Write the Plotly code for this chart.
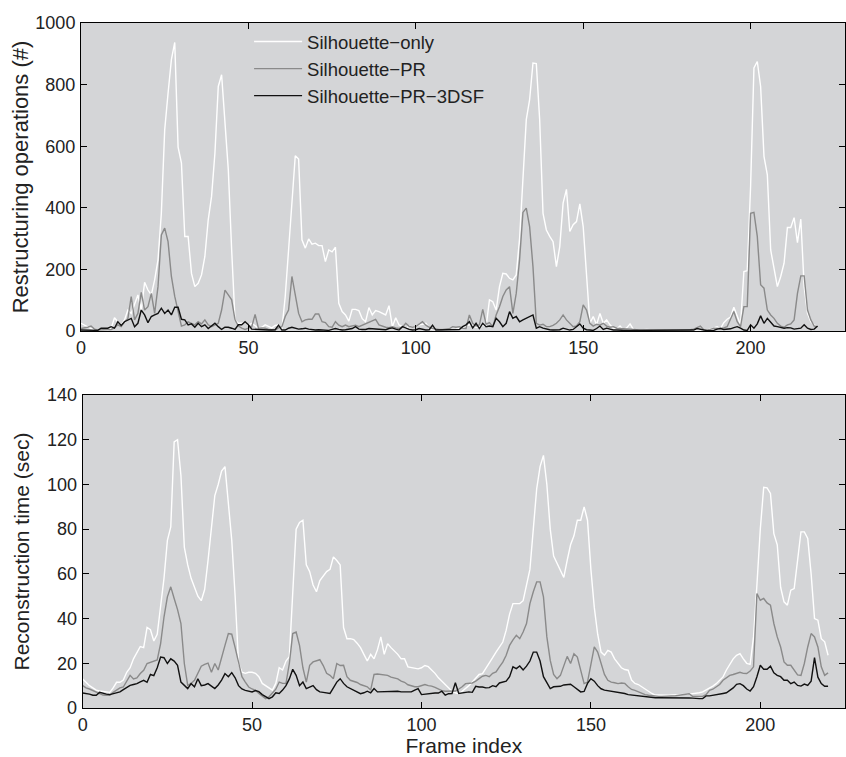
import plotly.graph_objects as go

frames = list(range(0, 221))

# Restructuring operations (#)
ops_silhouette_only = [
    25, 19.5, 12, 8, 5, 3, 3, 3, 3, 8, 43, 30, 19, 36, 68, 57, 90, 117, 68, 158,
    133, 117, 166, 231, 382, 653, 772, 881, 937, 597, 545, 307, 307, 187, 144, 155, 182, 242, 361, 437,
    577, 794, 832, 686, 523, 263, 36, 25, 25, 30, 19, 25, 16, 9, 12, 20, 15, 10, 18, 19.5,
    5, 112, 263, 404, 569, 558, 296, 269, 299, 282, 285, 277, 277, 225, 263, 257, 272, 90, 63, 52,
    32, 70, 70, 66, 40, 30, 76, 52, 66, 63, 58, 52, 82, 14, 43, 19.5, 14, 9, 15, 12,
    14, 20, 22, 25, 10, 5, 5, 5, 4, 4, 3, 5, 6, 8, 10, 16, 20, 18, 12, 14,
    18, 14, 101, 95, 68, 144, 187, 185, 171, 166, 182, 300, 500, 686, 751, 870, 868, 686, 382, 328,
    307, 290, 209, 274, 415, 460, 323, 345, 355, 413, 339, 166, 25, 47, 20, 57, 25, 36, 20, 9,
    6, 16, 4, 10, 23, 5, 4, 3, 4, 5, 3, 3, 3, 2, 2, 3, 2, 2, 3, 2,
    2, 3, 2, 4, 3, 5, 3, 3, 6, 9, 14, 8, 27, 38, 45, 77, 47, 20, 193, 196,
    469, 854, 875, 794, 567, 507, 263, 209, 144, 177, 220, 336, 336, 368, 287, 363, 144, 57, 30, 20,
    14,
]
ops_silhouette_pr = [
    8, 9, 12, 16, 6, 3, 4, 5, 5, 5, 10, 20, 14, 30, 40, 112, 36, 57, 125, 68,
    79, 122, 57, 144, 312, 334, 290, 177, 112, 68, 16, 20, 30, 25, 20, 30, 23, 36, 20, 14,
    20, 25, 68, 133, 117, 101, 36, 16, 9, 5, 9, 14, 54, 9, 10, 9, 5, 5, 3, 10,
    14, 47, 68, 177, 122, 57, 30, 36, 38, 38, 55, 55, 30, 27, 14, 12, 30, 19, 14, 19,
    14, 16, 19, 14, 19, 22, 28, 33, 38, 20, 16, 12, 11, 14, 10, 8, 12, 25, 15, 12,
    14, 22, 30, 19, 12, 8, 6, 5, 5, 5, 7, 14, 12, 14, 9, 8, 52, 25, 16, 20,
    70, 22, 27, 14, 52, 79, 112, 133, 144, 57, 122, 231, 385, 399, 339, 209, 25, 19, 22, 14,
    14, 18, 25, 36, 52, 36, 25, 14, 16, 30, 85, 68, 25, 16, 22, 19, 25, 16, 12, 14,
    9, 8, 6, 5, 5, 4, 3, 3, 3, 3, 3, 3, 3, 3, 2, 3, 4, 3, 3, 2,
    3, 3, 4, 6, 10, 16, 4, 3, 5, 9, 8, 9, 10, 14, 36, 63, 30, 14, 79, 79,
    382, 385, 307, 150, 139, 68, 52, 41, 25, 16, 12, 20, 23, 36, 122, 179, 179, 68, 36, 16,
    14,
]
ops_silhouette_pr_3dsf = [
    3, 3, 1, 1, 1, 2, 9, 8, 9, 14, 9, 30, 18, 30, 36, 41, 14, 25, 68, 52,
    27, 47, 52, 57, 74, 57, 68, 52, 77, 77, 38, 36, 20, 23, 12, 25, 14, 20, 8, 16,
    25, 14, 5, 12, 12, 9, 5, 20, 20, 30, 20, 6, 5, 5, 4, 3, 3, 3, 4, 19,
    3, 3, 9, 12, 10, 6, 7, 9, 6, 4, 3, 4, 3, 3, 2, 5, 8, 5, 3, 4,
    5, 8, 14, 6, 5, 5, 8, 7, 5, 4, 3, 4, 8, 10, 6, 3, 14, 9, 5, 3,
    4, 8, 6, 3, 4, 19, 3, 3, 3, 3, 3, 4, 5, 5, 14, 20, 30, 10, 25, 8,
    25, 14, 16, 14, 41, 30, 14, 25, 63, 41, 47, 30, 36, 41, 47, 52, 9, 14, 9, 6,
    4, 3, 3, 4, 9, 6, 3, 5, 14, 23, 9, 4, 3, 2, 8, 16, 5, 9, 6, 3,
    3, 2, 1, 2, 1, 2, 2, 1, 1, 1, 1, 1, 1, 1, 1, 1, 1, 1, 1, 1,
    2, 1, 1, 3, 8, 5, 2, 1, 1, 2, 6, 8, 5, 6, 7, 11, 14, 9, 3, 2,
    20, 9, 23, 49, 25, 41, 30, 16, 14, 12, 9, 11, 10, 6, 8, 9, 20, 9, 5, 6,
    16,
]

# Reconstruction time (sec)
time_silhouette_only = [
    13, 11.5, 10, 9, 8, 7.6, 7.3, 7.2, 7, 9, 11.5, 11.5, 12.5, 16, 18, 22, 25, 27.5, 27, 36,
    35, 30, 33, 45, 58, 75, 81, 119, 120, 104, 72, 64, 58, 54, 50, 48, 53, 66, 82, 95,
    100, 106, 108, 92, 75, 50, 20, 16, 15.5, 16, 16, 15.5, 14, 11, 10, 9, 8, 11, 18, 17,
    21, 23, 55, 80, 83, 84, 64, 61, 55, 52, 57, 59, 61, 62, 67.6, 66, 64, 36, 31, 31,
    30.6, 29, 27, 24, 21, 24, 22, 26, 31.8, 24, 28.8, 27, 25.5, 24, 22, 22, 18.4, 18, 17.6, 17.5,
    18, 19, 18.5, 17, 15.5, 13.5, 12, 10.5, 9, 7.5, 6.8, 6.4, 7.5, 8.7, 10, 11.6, 13.5, 15, 15.4, 17.6,
    20, 22.5, 25, 27.5, 29.5, 34.8, 42, 46.7, 46.7, 46.7, 48, 55, 62, 80, 98, 108, 113, 100, 80, 68,
    64.6, 61, 58.4, 66, 73, 77, 84, 84, 90, 84, 62, 45, 33, 25, 23.6, 25.8, 25, 22, 19.8, 18,
    17.2, 16.9, 12.5, 11, 10.5, 9.5, 8.5, 7.3, 6.5, 5.8, 5.7, 5.7, 5.7, 5.7, 5.8, 5.8, 5.9, 6, 6.1, 6.2,
    6.3, 6.4, 6.8, 7.2, 8, 8.7, 9.8, 10.9, 12.5, 13.9, 17, 19.5, 22, 23.6, 24.3, 22, 20, 19.5, 31.8, 55,
    80, 98.7, 98.5, 96, 78, 73, 54, 47.5, 46, 52.7, 53.4, 66, 78.8, 78.8, 75.8, 60, 40, 39.3, 31, 29.6,
    23.6,
]
time_silhouette_pr = [
    10, 9, 8.5, 7.9, 7, 6.5, 5.8, 5.7, 5.7, 7, 8, 9, 9.4, 12, 14.6, 13, 13.5, 15.4, 16.9, 19.9,
    20.5, 21, 21.5, 28.8, 40.7, 49.7, 54.2, 49, 44, 37.8, 19.9, 10.1, 11, 12.4, 15.5, 18.7, 19.5, 20.1, 16, 19.9,
    17, 22, 28, 33.3, 33, 27, 20, 14, 11.6, 9.4, 8.5, 7.9, 6.5, 5.5, 4.2, 5, 6.5, 8.4, 11.6, 11,
    11, 19.9, 33.3, 34, 28, 18, 11.6, 19.1, 20.6, 21, 21.6, 19, 15.5, 14.6, 13.1, 19.9, 19, 19.1, 14, 12.4,
    12, 11.4, 10.5, 10, 9.5, 8, 15, 15.2, 15, 14.8, 14.6, 13.8, 13.5, 13, 12, 11.5, 10.4, 10, 9.5, 9.5,
    10, 10.5, 10, 9.8, 9.2, 8.5, 7.8, 7.5, 7.5, 7.3, 7.6, 8.5, 9.5, 10.9, 10.9, 11.2, 12, 13.1, 14.2, 14.6,
    14, 15.5, 16.1, 18.4, 20.5, 23.6, 28, 30.5, 32.5, 31, 34, 37.8, 46.7, 52, 56.4, 56.4, 49.7, 31.8, 21.3, 15,
    13.1, 14.6, 18.4, 23.1, 19.9, 24.3, 22.8, 16.1, 10.9, 11.6, 19.9, 27.3, 25, 20.5, 15, 12.4, 11.6, 11.3, 10.9, 11.2,
    11, 9.5, 8.3, 7.9, 7.2, 6.4, 6, 5.7, 5.5, 5.2, 5.2, 5.2, 5.2, 5.2, 5.3, 5.5, 5.7, 6, 6.3, 6.4,
    5.2, 5.3, 5.2, 5.2, 6, 7.9, 8.4, 9.5, 10.5, 12.4, 13.5, 14.6, 15, 15.4, 16, 15.5, 15.4, 16.5, 18.4, 51.2,
    48.2, 49, 47, 46, 37.8, 31.8, 27.3, 20.6, 19.1, 19.1, 17, 14.8, 14.6, 19.9, 27.3, 33.3, 31.8, 27.3, 18.4, 14.6,
    15.7,
]
time_silhouette_pr_3dsf = [
    6.7, 6.5, 6.2, 5.7, 5.7, 7, 6.5, 6.2, 6, 6.5, 7, 7.2, 8.2, 9, 10.1, 10.5, 10.9, 11.7, 12.4, 11.5,
    15, 14.5, 18, 22.8, 22.5, 19.9, 22, 21, 19.1, 11.6, 10, 8.7, 10.9, 9.5, 13.1, 10, 10.3, 10.9, 9.8, 8.7,
    10.3, 12.5, 15.4, 14, 15.8, 13.5, 10, 8.5, 7.9, 7.6, 7.2, 7.8, 7.3, 6, 5, 4.2, 5, 6.8, 6.5, 8,
    10, 13, 17.3, 14.6, 10, 11.6, 8.7, 9.4, 10, 8.2, 7.2, 7, 6.7, 6.5, 9, 11.6, 13.1, 11, 9.5, 8.7,
    8, 7.4, 6.4, 6.8, 7.5, 6.8, 8.7, 7.2, 7.3, 7.3, 7.4, 7.5, 7.6, 7.5, 7.2, 7.1, 7.1, 7.2, 8, 8.7,
    6, 6.2, 6.2, 6.7, 6.7, 6.7, 7.5, 5.7, 6.4, 6.5, 11.3, 6.5, 6.8, 7, 7.2, 7, 9.7, 9.4, 9.4, 9,
    9.1, 10, 9.5, 11.2, 11.6, 12, 14, 18.4, 17.6, 18.8, 17, 18.7, 21, 25, 25, 21, 14, 11, 8.7, 9.5,
    9.7, 9.7, 10.3, 10.5, 10.6, 9.5, 8.2, 7.2, 7.4, 11, 13.1, 12, 10, 8.6, 8, 7.8, 7.5, 7.3, 7, 6.8,
    6.5, 6, 5.8, 5.5, 5.3, 5.2, 5, 4.8, 4.6, 4.6, 4.6, 4.6, 4.6, 4.6, 4.6, 4.6, 4.7, 4.8, 4.6, 4.5,
    4.4, 4.2, 4.2, 4.2, 5.4, 5.4, 5.6, 5.8, 6.2, 6.5, 6.8, 7.9, 9, 10.6, 10.9, 10, 8.5, 7.6, 9.5, 14,
    19.1, 17.3, 17.3, 18.7, 15.7, 14.6, 14, 12.4, 12.4, 10.9, 11.6, 10.1, 9.8, 10.7, 10.1, 12, 22.5, 13.8, 10.9, 9.7,
    9.7,
]

series_names = ["Silhouette\u2212only", "Silhouette\u2212PR", "Silhouette\u2212PR\u22123DSF"]
series_colors = ["#ffffff", "#8a8a8a", "#111111"]

FONT = "Liberation Sans, Arial, Helvetica, sans-serif"
TXT = "#222222"

fig = go.Figure()

top_series = [ops_silhouette_only, ops_silhouette_pr, ops_silhouette_pr_3dsf]
bot_series = [time_silhouette_only, time_silhouette_pr, time_silhouette_pr_3dsf]

for i, (name, color, ys) in enumerate(zip(series_names, series_colors, top_series)):
    fig.add_trace(go.Scatter(
        x=frames, y=ys, mode="lines", name=name,
        line=dict(color=color, width=1.4),
        legendgroup="g%d" % i, showlegend=True,
        xaxis="x", yaxis="y",
    ))
for i, (name, color, ys) in enumerate(zip(series_names, series_colors, bot_series)):
    fig.add_trace(go.Scatter(
        x=frames, y=ys, mode="lines", name=name,
        line=dict(color=color, width=1.4),
        legendgroup="g%d" % i, showlegend=False,
        xaxis="x2", yaxis="y2",
    ))

axis_common = dict(
    showgrid=False, zeroline=False, showline=True, linecolor="black", linewidth=1,
    mirror="ticks", ticks="inside", ticklen=6, tickwidth=1, tickcolor="black",
    tickfont=dict(family=FONT, size=18, color=TXT), automargin=False,
)

fig.update_layout(
    width=846, height=757, autosize=False,
    paper_bgcolor="white", plot_bgcolor="#d4d5d7",
    margin=dict(l=81, r=1, t=23, b=49),
    font=dict(family=FONT, size=18, color=TXT),
    xaxis=dict(domain=[0, 1], range=[0, 228.2], anchor="y",
               tickvals=[0, 50, 100, 150, 200], **axis_common),
    yaxis=dict(domain=[0.5504, 1], range=[0, 1000], anchor="x",
               tickvals=[0, 200, 400, 600, 800, 1000], ticklabelstandoff=1,
               title=dict(text="Restructuring operations (#)",
                          font=dict(family=FONT, size=22, color=TXT), standoff=0),
               **axis_common),
    xaxis2=dict(domain=[0.0022, 1], range=[0, 225.0], anchor="y2",
                tickvals=[0, 50, 100, 150, 200],
                title=dict(text="Frame index",
                           font=dict(family=FONT, size=21, color=TXT), standoff=0),
                **axis_common),
    yaxis2=dict(domain=[0, 0.4569], range=[0, 140], anchor="x2",
                tickvals=[0, 20, 40, 60, 80, 100, 120, 140], ticklabelstandoff=1,
                title=dict(text="Reconstruction time (sec)",
                           font=dict(family=FONT, size=21, color=TXT), standoff=11),
                **axis_common),
    legend=dict(
        x=0.22, y=1.0, xanchor="left", yanchor="top",
        bgcolor="rgba(0,0,0,0)", borderwidth=0,
        font=dict(family=FONT, size=18.5, color=TXT),
        traceorder="grouped", tracegroupgap=0, itemwidth=48,
    ),
    showlegend=True,
)

fig.write_html(
    "out.html",
    config={"responsive": False, "displayModeBar": False},
    post_script="document.body.style.margin='0';document.body.style.overflow='hidden';",
)
